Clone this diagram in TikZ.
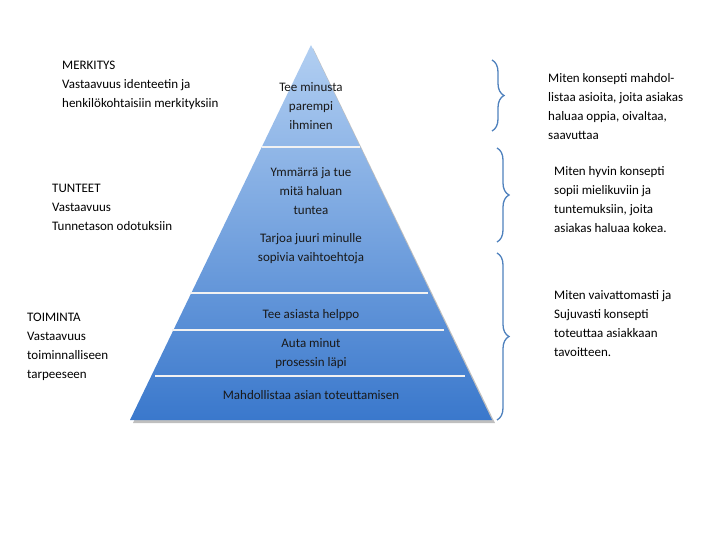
\documentclass[tikz,border=0pt]{standalone}
\usepackage{fontspec}
\setmainfont{Carlito}
\usetikzlibrary{decorations.pathreplacing}
\definecolor{brc}{HTML}{4F81BD}
\definecolor{ptop}{HTML}{B2CFF2}
\definecolor{pbot}{HTML}{3A78CC}
\begin{document}
\begin{tikzpicture}[x=1pt,y=-1pt,
  txt/.style={font=\fontsize{13}{19}\selectfont,align=left,anchor=north west,inner sep=0pt},
  ptxt/.style={font=\fontsize{13}{19}\selectfont,align=center,anchor=north,inner sep=0pt,text=black!90},
  sep/.style={draw=white!90!gray,line width=2pt},
  br/.style={draw=brc,line width=1.3pt,decorate,decoration={brace,amplitude=12pt}}]
\useasboundingbox (0,0) rectangle (720,540);
\fill[black!25] (313,48) -- (495,423) -- (133,423) -- cycle;
\shade[top color=ptop,bottom color=pbot] (311,45) coordinate (apex) -- (492,420) coordinate (br) -- (130,420) coordinate (bl) -- cycle;
\draw[sep] (262,147) coordinate (l1a) -- (360,147) coordinate (l1b);
\draw[sep] (190,293) coordinate (l2a) -- (428,293) coordinate (l2b);
\draw[sep] (172,330) coordinate (l3a) -- (444,330) coordinate (l3b);
\draw[sep] (155,376) coordinate (l4a) -- (465,376) coordinate (l4b);
\node[ptxt] (p1) at (311,82) {Tee minusta\\parempi\\ihminen};
\node[ptxt] (p2) at (311,167) {Ymmärrä ja tue\\mitä haluan\\tuntea};
\node[ptxt] (p3) at (311,233) {Tarjoa juuri minulle\\sopivia vaihtoehtoja};
\node[ptxt] (p4) at (311,309) {Tee asiasta helppo};
\node[ptxt] (p5) at (311,338) {Auta minut\\prosessin läpi};
\node[ptxt] (p6) at (311,390) {Mahdollistaa asian toteuttamisen};
\node[txt] (m) at (62,61) {MERKITYS\\Vastaavuus identeetin ja\\henkilökohtaisiin merkityksiin};
\node[txt] (t) at (52,184) {TUNTEET\\Vastaavuus\\Tunnetason odotuksiin};
\node[txt] (o) at (27,313) {TOIMINTA\\Vastaavuus\\toiminnalliseen\\tarpeeseen};
\coordinate (b1a) at (492,60); \coordinate (b1b) at (492,131);
\coordinate (b2a) at (497,148); \coordinate (b2b) at (497,242);
\coordinate (b3a) at (497,253); \coordinate (b3b) at (497,420);
\draw[br] (b1a) -- (b1b);
\draw[br] (b2a) -- (b2b);
\draw[br] (b3a) -- (b3b);
\node[txt] (r1) at (548,73) {Miten konsepti mahdol-\\listaa asioita, joita asiakas\\ haluaa oppia, oivaltaa,\\saavuttaa};
\node[txt] (r2) at (554,166) {Miten hyvin konsepti\\sopii mielikuviin ja\\tuntemuksiin, joita\\asiakas haluaa kokea.};
\node[txt] (r3) at (554,290) {Miten vaivattomasti ja\\Sujuvasti konsepti\\toteuttaa asiakkaan\\tavoitteen.};
\end{tikzpicture}
\end{document}
